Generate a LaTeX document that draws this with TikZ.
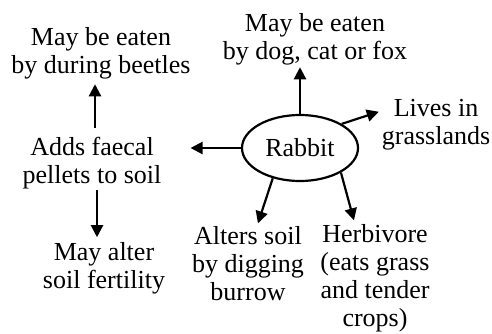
\documentclass[tikz,border=0pt]{standalone}
\usepackage{fontspec}
\setmainfont{Liberation Serif}
\usetikzlibrary{arrows.meta, positioning, shapes.geometric}
\tikzset{
  arrowK/.style={-{Triangle[length=12pt, width=12pt]}, line width=2.2pt},
  noteTxt/.style={align=center, inner sep=0pt, anchor=north,
                  font=\fontsize{26}{28}\selectfont},
  oval/.style={ellipse, draw, line width=2.2pt, minimum width=116pt,
               minimum height=66pt, inner sep=0pt, font=\fontsize{26}{28}\selectfont},
}
\begin{document}
\begin{tikzpicture}[x=1pt, y=1pt]
  \useasboundingbox (0,0) rectangle (492,333);
  \node[oval] (rabbit) at (300,185) {Rabbit};
  \node[noteTxt] (predator) at (315,319.8) {May be eaten\\by dog, cat or fox};
  \node[noteTxt] (beetle) at (101,305.8) {May be eaten\\by during beetles};
  \node[noteTxt] (grass) at (436,233.8) {Lives in\\grasslands};
  \node[noteTxt] (faecal) at (92,195.8) {Adds faecal\\pellets to soil};
  \node[noteTxt] (fertility) at (104,90.8) {May alter\\soil fertility};
  \node[noteTxt] (burrow) at (248,106.8) {Alters soil\\by digging\\burrow};
  \node[noteTxt] (herbivore) at (375,108.8) {Herbivore\\(eats grass\\and tender\\crops)};
  % arrows out of the rabbit
  \draw[arrowK, shorten >=2pt] (rabbit.north) -- (rabbit.north |- predator.south);
  \draw[arrowK, shorten >=3pt] (rabbit.30) -- ([yshift=14pt]grass.west);
  \draw[arrowK, shorten >=29pt] (rabbit.west) -- (rabbit.west -| faecal.east);
  \draw[arrowK, shorten >=3pt] (rabbit.228) -- ([xshift=9pt]burrow.north);
  \draw[arrowK, shorten >=4pt] (rabbit.329) -- ([xshift=-20pt]herbivore.north);
  % faecal pellets
  \draw[arrowK, shorten <=9pt, shorten >=5pt] ([xshift=3pt]faecal.north)
    -- ([xshift=3pt]faecal.north |- beetle.south);
  \draw[arrowK, shorten <=1pt, shorten >=5pt] ([xshift=5pt]faecal.south)
    -- ([xshift=5pt]faecal.south |- fertility.north);
\end{tikzpicture}
\end{document}
